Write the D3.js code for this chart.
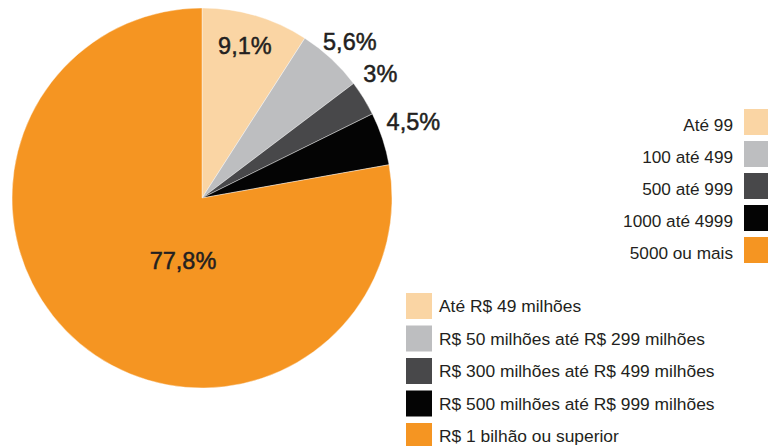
<!DOCTYPE html>
<html>
<head>
<meta charset="utf-8">
<script src="https://cdn.jsdelivr.net/npm/d3@7"></script>
<style>
    body { margin: 0; background: #fff; }
    svg { display: block; font-family: "Liberation Sans", Arial, sans-serif; }
</style>
</head>
<body>
<svg id="chart" width="768" height="446"></svg>
<script>
// slice values, in the order they are drawn clockwise from 12 o'clock
const sliceValues = [9.1, 5.6, 3, 4.5, 77.8];
const sliceLabels = ['9,1%', '5,6%', '3%', '4,5%', '77,8%'];
const sliceColors = ['#fad5a4', '#bdbec0', '#48484a', '#040404', '#f59522'];

// two legends share the same colours
const employeeLegend = ['Até 99', '100 até 499', '500 até 999', '1000 até 4999', '5000 ou mais'];
const revenueLegend = [
    'Até R$ 49 milhões',
    'R$ 50 milhões até R$ 299 milhões',
    'R$ 300 milhões até R$ 499 milhões',
    'R$ 500 milhões até R$ 999 milhões',
    'R$ 1 bilhão ou superior'
];

document.addEventListener('DOMContentLoaded', function () {
    const svg = d3.select('#chart');
    const textColor = '#231f20';

    const cx = 202, cy = 198, radius = 190;

    const pie = d3.pie().sort(null).value(d => d);
    const arc = d3.arc().innerRadius(0).outerRadius(radius);
    const arcs = pie(sliceValues);

    const g = svg.append('g').attr('transform', `translate(${cx},${cy})`);

    g.selectAll('path')
        .data(arcs)
        .enter()
        .append('path')
        .attr('d', arc)
        .attr('fill', (d, i) => sliceColors[i])
        .attr('stroke', '#fff')
        .attr('stroke-width', 0.4);

    // labels: first one and the big one sit inside, the small ones outside
    const labelRadius = [0.8, 1.09, 1.14, 1.16, 0.32];
    const labelShift = [[0, -7], [7, -5], [-6, -11], [2, -8], [20, 16]];

    g.selectAll('text.pct')
        .data(arcs)
        .enter()
        .append('text')
        .attr('class', 'pct')
        .attr('transform', (d, i) => {
            const a = (d.startAngle + d.endAngle) / 2;
            const r = radius * labelRadius[i];
            const x = Math.sin(a) * r + labelShift[i][0];
            const y = -Math.cos(a) * r + labelShift[i][1];
            return `translate(${x},${y})`;
        })
        .attr('text-anchor', 'middle')
        .attr('dy', '0.36em')
        .attr('font-size', 23.5)
        .attr('fill', textColor)
        .attr('stroke', textColor)
        .attr('stroke-width', 0.5)
        .text((d, i) => sliceLabels[i]);

    // legend on the right, text right-aligned before the swatch
    const legendA = svg.append('g').attr('transform', 'translate(744,109)');
    const rowA = legendA.selectAll('g')
        .data(employeeLegend)
        .enter()
        .append('g')
        .attr('transform', (d, i) => `translate(0,${i * 32})`);
    rowA.append('rect')
        .attr('width', 26).attr('height', 26)
        .attr('fill', (d, i) => sliceColors[i]);
    rowA.append('text')
        .attr('x', -11).attr('y', 16).attr('dy', '0.35em')
        .attr('text-anchor', 'end')
        .attr('font-size', 17.2)
        .attr('fill', textColor)
        .text(d => d);

    // legend at the bottom, swatch then text
    const legendB = svg.append('g').attr('transform', 'translate(406,293)');
    const rowB = legendB.selectAll('g')
        .data(revenueLegend)
        .enter()
        .append('g')
        .attr('transform', (d, i) => `translate(0,${i * 32.5})`);
    rowB.append('rect')
        .attr('width', 26).attr('height', 26)
        .attr('fill', (d, i) => sliceColors[i]);
    rowB.append('text')
        .attr('x', 33).attr('y', 13).attr('dy', '0.35em')
        .attr('font-size', 17.4)
        .attr('fill', textColor)
        .text(d => d);
});
</script>
</body>
</html>
